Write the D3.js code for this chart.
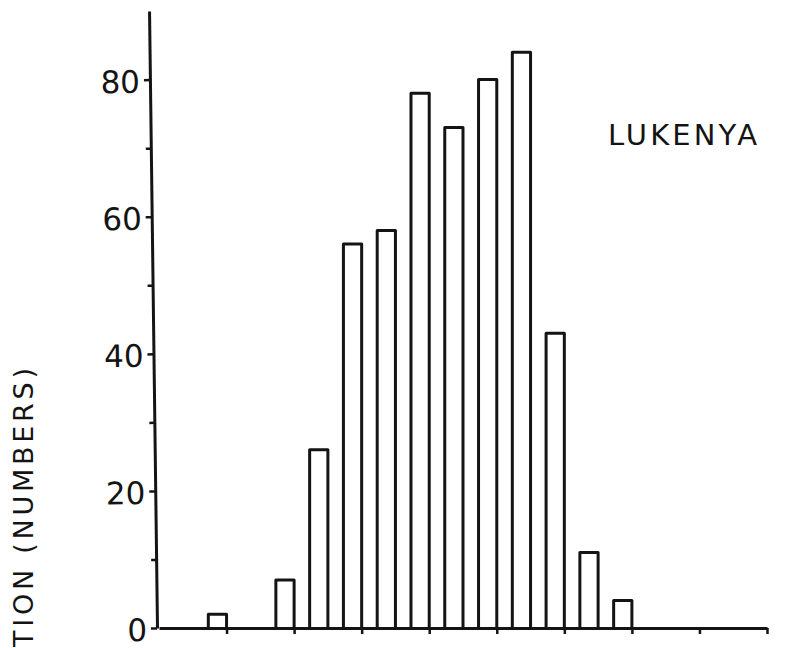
<!DOCTYPE html>
<html>
<head>
<meta charset="utf-8">
<script src="https://cdn.jsdelivr.net/npm/d3@7/dist/d3.min.js"></script>
<style>
  html, body { margin: 0; padding: 0; background: #fff; }
  svg { display: block; }
  text { font-family: "DejaVu Sans", sans-serif; fill: #141414; }
</style>
</head>
<body>
<svg id="chart" width="795" height="648"></svg>
<script>
// Histogram bins: upper edge of each class and its count
const binEnds = [1, 1.5, 2, 2.5, 3, 3.5, 4, 4.5, 5, 5.5, 6, 6.5, 7];
const counts  = [2, 0, 7, 26, 56, 58, 78, 73, 80, 84, 43, 11, 4];

const xTicks = [1, 2, 3, 4, 5, 6, 7, 8, 9];
const yMajorTicks = [0, 20, 40, 60, 80];
const yMinorTicks = [10, 30, 50, 70];

const siteName = "LUKENYA";
const yTitle = "TION (NUMBERS)";

const ink = "#141414";
const svg = d3.select("#chart");

const x = d3.scaleLinear().domain([0, 9]).range([159, 767]);
const y = d3.scaleLinear().domain([0, 90]).range([628, 11]);

const barUnits = 0.27; // bar width as a fraction of one x unit

// bars (each sits against the upper edge of its class)
const bins = binEnds.map((e, i) => ({ end: e, n: counts[i] })).filter(d => d.n > 0);
svg.append("g").selectAll("path")
  .data(bins)
  .join("path")
  .attr("d", d => {
    const x0 = x(d.end - barUnits), x1 = x(d.end), yb = y(0), yt = y(d.n);
    return `M${x0},${yb}V${yt}H${x1}V${yb}`;
  })
  .attr("fill", "none")
  .attr("stroke", ink)
  .attr("stroke-width", 3)
  .attr("stroke-linejoin", "round");

// x axis
const gx = svg.append("g")
  .attr("transform", `translate(0,${y(0)})`)
  .call(d3.axisBottom(x).tickValues(xTicks).tickSize(6).tickSizeOuter(0).tickFormat(""));
gx.select(".domain").attr("stroke", ink).attr("stroke-width", 3);
gx.selectAll(".tick line").attr("stroke", ink).attr("stroke-width", 2.5);

// y axis, slightly leaning as drawn by hand
const gyWrap = svg.append("g")
  .attr("transform", `rotate(-0.74, ${x(0) - 2}, ${y(0)})`);

const gyMinor = gyWrap.append("g")
  .attr("transform", `translate(${x(0) - 2},0)`)
  .call(d3.axisLeft(y).tickValues(yMinorTicks).tickSize(5).tickSizeOuter(0).tickFormat(""));
gyMinor.select(".domain").remove();
gyMinor.selectAll(".tick line").attr("stroke", ink).attr("stroke-width", 2.5);

const gy = gyWrap.append("g")
  .attr("transform", `translate(${x(0) - 2},0)`)
  .call(d3.axisLeft(y).tickValues(yMajorTicks).tickSize(6).tickSizeOuter(0).tickPadding(4).tickFormat(d3.format("d")));
gy.select(".domain").attr("stroke", ink).attr("stroke-width", 3);
gy.selectAll(".tick line").attr("stroke", ink).attr("stroke-width", 2.5);
gy.selectAll(".tick text")
  .attr("font-size", 31)
  .attr("dy", "0.40em")
  .attr("fill", ink)
  .style("font-family", '"DejaVu Sans", sans-serif');

// site label
svg.append("text")
  .attr("x", 608)
  .attr("y", 145)
  .attr("font-size", 29)
  .attr("textLength", 149)
  .attr("lengthAdjust", "spacing")
  .text(siteName);

// y axis title
svg.append("text")
  .attr("transform", "translate(33,647) rotate(-90)")
  .attr("font-size", 27)
  .attr("textLength", 279)
  .attr("lengthAdjust", "spacing")
  .text(yTitle);
</script>
</body>
</html>
